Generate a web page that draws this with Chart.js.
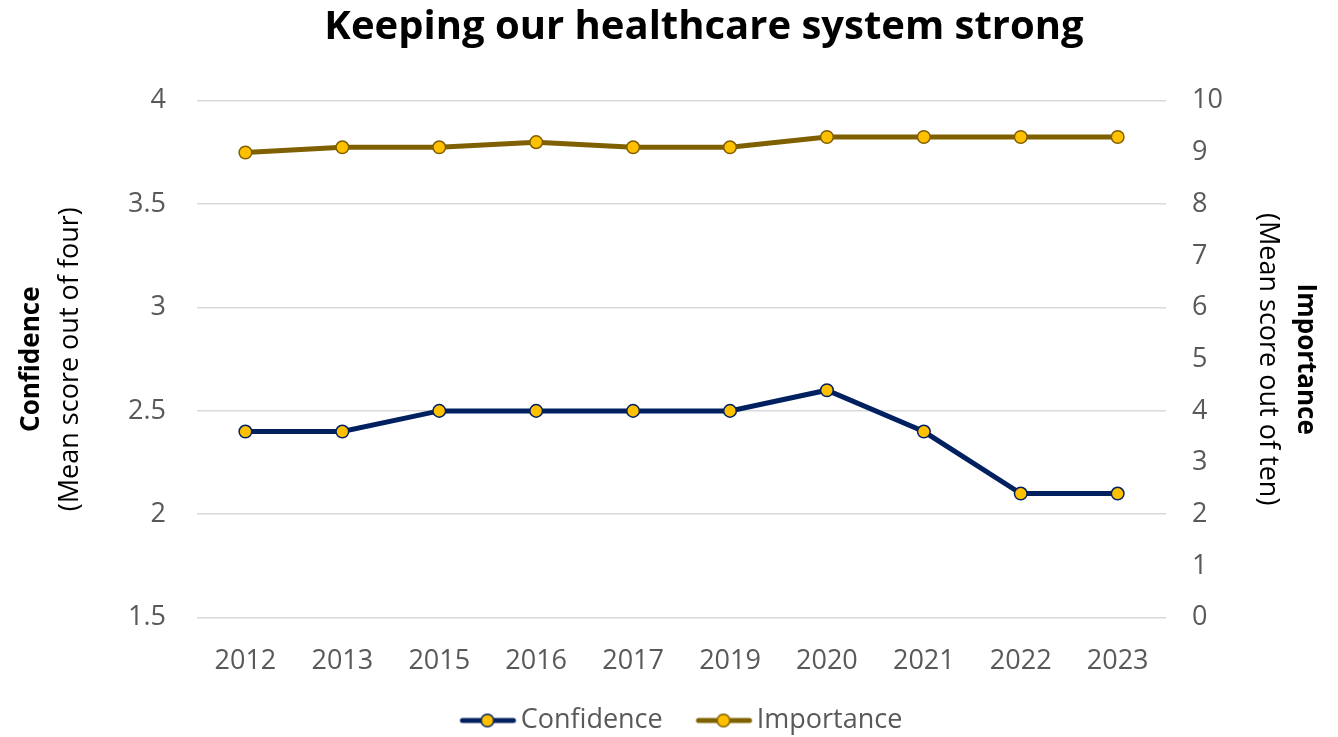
<!DOCTYPE html>
<html>
<head>
<meta charset="utf-8">
<script src="https://cdn.jsdelivr.net/npm/chart.js@4.4.0/dist/chart.umd.min.js"></script>
<style>
  html, body { margin: 0; padding: 0; background: #fff; }
  #wrap { width: 1338px; height: 737px; }
</style>
</head>
<body>
<div id="wrap"><canvas id="Chart_0" width="1338" height="737"></canvas></div>
<script>
"use strict";

// data
const years = ['2012', '2013', '2015', '2016', '2017', '2019', '2020', '2021', '2022', '2023'];
const confidence = [2.4, 2.4, 2.5, 2.5, 2.5, 2.5, 2.6, 2.4, 2.1, 2.1];
const importance = [9.0, 9.1, 9.1, 9.2, 9.1, 9.1, 9.3, 9.3, 9.3, 9.3];
const leftTicks = { min: 1.5, max: 4, step: 0.5 };
const rightTicks = { min: 0, max: 10, step: 1 };

const C_NAVY = '#002060', C_OLIVE = '#7F6000', C_GOLD = '#FFC000';
const FONT = "'Open Sans', 'Noto Sans', sans-serif";
const GREY = '#595959';
const FS = 27;
const TITLE = 'Keeping our healthcare system strong';

// legend marker: line + circle, drawn toward the right of a wider canvas
// so the text sits close to it and there is a gap before the next item
function legendIcon(col) {
  const c = document.createElement('canvas');
  c.width = 100; c.height = 16;
  const g = c.getContext('2d');
  const a = 38;
  g.strokeStyle = col; g.lineWidth = 5; g.lineCap = 'round';
  g.beginPath(); g.moveTo(a + 3, 8); g.lineTo(a + 54, 8); g.stroke();
  g.fillStyle = C_GOLD; g.lineWidth = 1.5;
  g.beginPath(); g.arc(a + 28, 8, 6.3, 0, Math.PI * 2); g.fill(); g.stroke();
  return c;
}

// title + axis titles (bold first line, normal second line)
const textDeco = {
  id: 'textDeco',
  afterDraw(chart) {
    const { ctx, chartArea } = chart;
    const midY = (chartArea.top + chartArea.bottom) / 2;
    ctx.save();
    ctx.fillStyle = '#000';
    ctx.textAlign = 'center';
    ctx.textBaseline = 'middle';
    ctx.font = 'bold 40px ' + FONT;
    ctx.fillText(TITLE, 704, 28);
    // left
    ctx.save();
    ctx.translate(0, midY);
    ctx.rotate(-Math.PI / 2);
    ctx.font = 'bold 26px ' + FONT;
    ctx.fillText('Confidence', 0, 32);
    ctx.font = FS + 'px ' + FONT;
    ctx.fillText('(Mean score out of four)', 0, 70);
    ctx.restore();
    // right
    ctx.save();
    ctx.translate(chart.width, midY);
    ctx.rotate(Math.PI / 2);
    ctx.font = 'bold 26px ' + FONT;
    ctx.fillText('Importance', 0, 33);
    ctx.font = FS + 'px ' + FONT;
    ctx.fillText('(Mean score out of ten)', 0, 70);
    ctx.restore();
    ctx.restore();
  }
};

const ctx = document.getElementById('Chart_0');
Chart.defaults.font.family = FONT;
Chart.defaults.color = GREY;

new Chart(ctx, {
  type: 'line',
  data: {
    labels: years,
    datasets: [
      {
        label: 'Confidence', data: confidence, yAxisID: 'y',
        borderColor: C_NAVY, borderWidth: 5, backgroundColor: C_GOLD,
        pointRadius: 6.3, pointBorderWidth: 1.5, pointBorderColor: C_NAVY, pointBackgroundColor: C_GOLD,
        pointStyle: 'circle', tension: 0
      },
      {
        label: 'Importance', data: importance, yAxisID: 'y1',
        borderColor: C_OLIVE, borderWidth: 5, backgroundColor: C_GOLD,
        pointRadius: 6.3, pointBorderWidth: 1.5, pointBorderColor: C_OLIVE, pointBackgroundColor: C_GOLD,
        pointStyle: 'circle', tension: 0
      }
    ]
  },
  options: {
    responsive: false,
    animation: false,
    layout: { padding: { left: 97, right: 97, top: 0, bottom: -7 } },
    plugins: {
      // keeps room at the top; drawn by textDeco
      title: {
        display: true,
        text: TITLE,
        color: 'rgba(0,0,0,0)',
        font: { size: 39, weight: 'bold' },
        padding: { top: 5, bottom: 49 }
      },
      legend: {
        position: 'bottom',
        labels: {
          usePointStyle: true,
          pointStyleWidth: 71.5,
          font: { size: FS },
          color: GREY,
          padding: 9,
          generateLabels(chart) {
            return chart.data.datasets.map((ds, i) => ({
              text: ds.label,
              fillStyle: C_GOLD,
              strokeStyle: ds.borderColor,
              pointStyle: legendIcon(ds.borderColor),
              datasetIndex: i,
              fontColor: GREY,
              lineWidth: 0
            }));
          }
        }
      },
      tooltip: { enabled: false }
    },
    scales: {
      x: {
        offset: true,
        grid: { display: false },
        border: { display: false },
        ticks: { font: { size: FS }, color: GREY, padding: 20 }
      },
      y: {
        position: 'left',
        min: leftTicks.min, max: leftTicks.max,
        grid: { color: '#D9D9D9', lineWidth: 1.5, drawTicks: false },
        border: { display: false },
        ticks: { stepSize: leftTicks.step, font: { size: FS }, color: GREY, padding: 31,
          callback: v => String(v) }
      },
      y1: {
        position: 'right',
        min: rightTicks.min, max: rightTicks.max,
        grid: { display: false },
        border: { display: false },
        ticks: { stepSize: rightTicks.step, font: { size: FS }, color: GREY, padding: 18,
          callback: v => String(v) }
      }
    }
  },
  plugins: [textDeco]
});
</script>
</body>
</html>
